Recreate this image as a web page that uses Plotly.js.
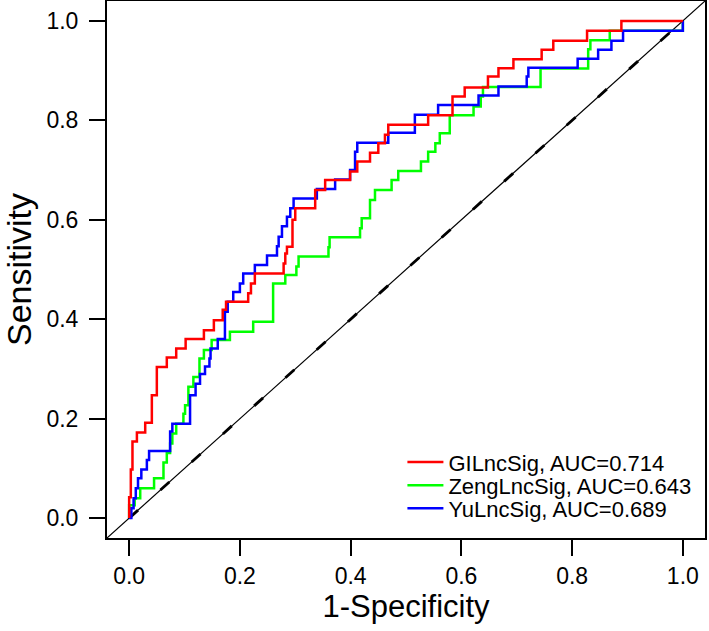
<!DOCTYPE html>
<html>
<head>
<meta charset="utf-8">
<script src="https://cdn.plot.ly/plotly-3.0.1.min.js"></script>
<style>
html,body{margin:0;padding:0;background:#fff;}
#chart{width:709px;height:631px;}
</style>
</head>
<body>
<div id="chart"></div>
<script>
// Series names
const seriesNames = ['GILncSig, AUC=0.714', 'ZengLncSig, AUC=0.643', 'YuLncSig, AUC=0.689'];

// GILncSig ROC (1-specificity, sensitivity) step vertices
const giFPR = [0,0,0.003,0.006,0.014,0.029,0.041,0.05,0.068,0.085,0.102,0.135,0.153,0.169,0.175,0.215,0.22,0.227,0.279,0.282,0.285,0.295,0.3,0.336,0.354,0.399,0.412,0.435,0.45,0.462,0.468,0.54,0.584,0.606,0.648,0.667,0.694,0.745,0.766,0.827,0.889,1.0];
const giTPR = [0,0.042,0.098,0.154,0.172,0.192,0.247,0.304,0.323,0.341,0.36,0.378,0.398,0.419,0.435,0.452,0.472,0.492,0.512,0.532,0.546,0.6,0.623,0.66,0.68,0.697,0.717,0.735,0.754,0.771,0.791,0.81,0.848,0.866,0.888,0.905,0.923,0.942,0.96,0.98,1.0,1.0];

// ZengLncSig ROC
const zengFPR = [0,0,0.01,0.02,0.045,0.062,0.068,0.074,0.078,0.085,0.098,0.101,0.107,0.116,0.127,0.135,0.149,0.182,0.224,0.26,0.282,0.302,0.306,0.36,0.362,0.417,0.42,0.435,0.444,0.474,0.486,0.527,0.54,0.553,0.561,0.579,0.622,0.635,0.639,0.743,0.829,0.833,0.868,1.0];
const zengTPR = [0,0.026,0.04,0.06,0.08,0.112,0.131,0.15,0.17,0.19,0.21,0.227,0.264,0.284,0.321,0.338,0.358,0.375,0.395,0.472,0.489,0.506,0.526,0.545,0.565,0.583,0.603,0.64,0.66,0.68,0.698,0.717,0.737,0.754,0.774,0.81,0.828,0.848,0.867,0.904,0.943,0.961,0.98,1.0];

// YuLncSig ROC
const yuFPR = [0,0.004,0.008,0.012,0.016,0.022,0.032,0.036,0.074,0.078,0.11,0.12,0.128,0.137,0.145,0.147,0.16,0.173,0.178,0.188,0.2,0.206,0.227,0.249,0.267,0.27,0.276,0.285,0.291,0.297,0.339,0.372,0.399,0.408,0.412,0.468,0.516,0.558,0.631,0.667,0.718,0.721,0.81,0.847,0.871,0.892,1.0];
const yuTPR = [0,0.02,0.04,0.06,0.08,0.098,0.117,0.135,0.174,0.19,0.247,0.27,0.29,0.305,0.321,0.341,0.36,0.415,0.435,0.455,0.472,0.492,0.509,0.528,0.547,0.566,0.587,0.606,0.623,0.643,0.662,0.681,0.7,0.737,0.755,0.775,0.811,0.831,0.85,0.868,0.888,0.906,0.924,0.942,0.96,0.98,1.0];

// Reference diagonal
const diagFull = [-0.04, 1.04];
const diagUnit = [0, 1];

const colors = ['#FF0000', '#00FF00', '#0000FF'];
const FONT = 'Liberation Sans, Arial, Helvetica, sans-serif';

const traces = [
  {x: diagFull, y: diagFull, mode: 'lines', line: {color: '#000', width: 1.2}, showlegend: false, hoverinfo: 'skip'},
  {x: diagUnit, y: diagUnit, mode: 'lines', line: {color: '#000', width: 2.8, dash: '12px,30px'}, showlegend: false, hoverinfo: 'skip'},
  {x: zengFPR, y: zengTPR, name: seriesNames[1], legend: 'legend2', mode: 'lines', line: {color: colors[1], width: 2.5, shape: 'hv'}},
  {x: yuFPR, y: yuTPR, name: seriesNames[2], legend: 'legend3', mode: 'lines', line: {color: colors[2], width: 2.5, shape: 'hv'}},
  {x: giFPR, y: giTPR, name: seriesNames[0], legend: 'legend', mode: 'lines', line: {color: colors[0], width: 2.5, shape: 'hv'}}
];

const axisCommon = {
  range: [-0.04, 1.04],
  tickvals: [0, 0.2, 0.4, 0.6, 0.8, 1.0],
  tickformat: '.1f',
  ticks: 'outside', ticklen: 16, tickwidth: 2, tickcolor: '#000',
  showline: true, linewidth: 2, linecolor: '#000', mirror: true,
  showgrid: false, zeroline: false,
  tickfont: {family: FONT, size: 23, color: '#000'}
};

function legendAt(y) {
  return {
    x: 0.494, y: y, xanchor: 'left', yanchor: 'middle',
    bgcolor: 'rgba(0,0,0,0)', borderwidth: 0,
    font: {family: FONT, size: 22, color: '#000'},
    itemwidth: 36, tracegroupgap: 0
  };
}

const layout = {
  width: 709, height: 631,
  margin: {l: 107, r: 4, t: 1, b: 93},
  paper_bgcolor: '#fff', plot_bgcolor: '#fff',
  font: {family: FONT, color: '#000'},
  xaxis: Object.assign({}, axisCommon, {title: {text: '1-Specificity', font: {family: FONT, size: 31, color: '#000'}, standoff: 8}}),
  yaxis: Object.assign({}, axisCommon, {ticklabelstandoff: 6, title: {text: 'Sensitivity', font: {family: FONT, size: 34, color: '#000'}, standoff: 12}}),
  legend: legendAt(0.141),
  legend2: legendAt(0.098),
  legend3: legendAt(0.055),
  showlegend: true
};

Plotly.newPlot('chart', traces, layout, {displayModeBar: false, staticPlot: true});
</script>
</body>
</html>
